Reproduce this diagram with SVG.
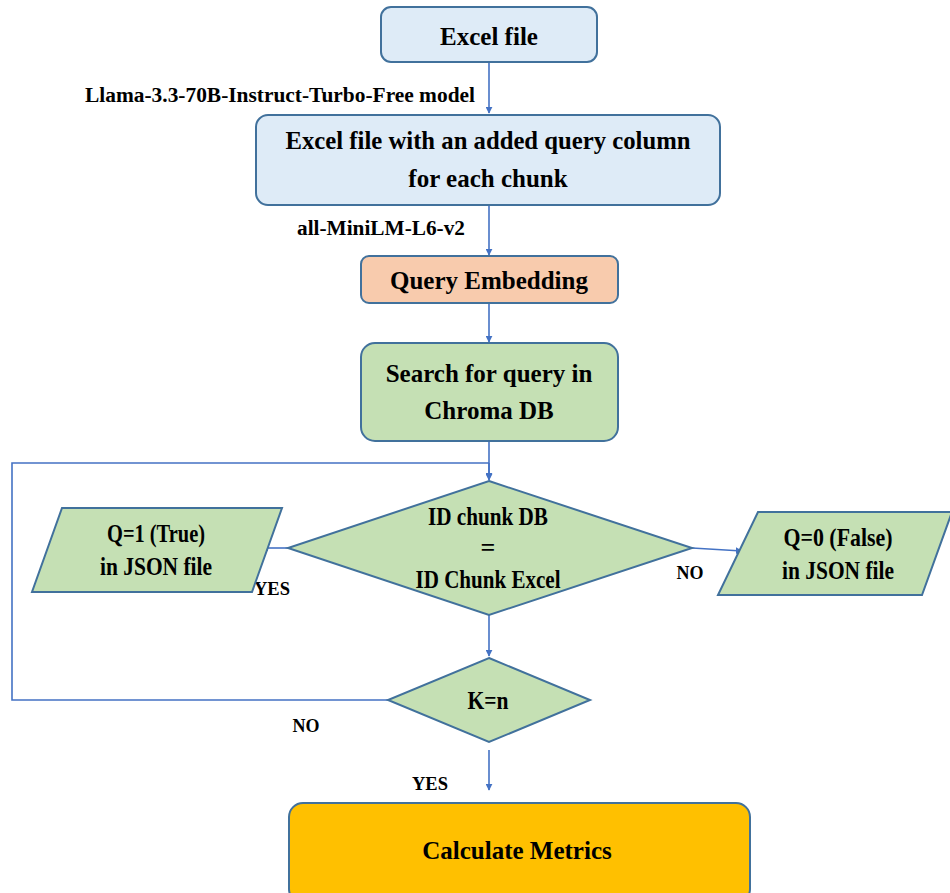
<svg xmlns="http://www.w3.org/2000/svg" width="950" height="893" viewBox="0 0 950 893">
<defs>
<marker id="ah" viewBox="0 0 10 10" refX="9" refY="5" markerWidth="7" markerHeight="7" orient="auto" markerUnits="userSpaceOnUse">
<path d="M0,0 L10,5 L0,10 z" fill="#4472c4"/>
</marker>
<style>
.t{font-family:"Liberation Serif","Times New Roman",serif;font-weight:bold;fill:#000;text-anchor:middle;dominant-baseline:central}
.lb{font-size:20px}
.sl{font-size:19px}
.nt{font-size:25px}
.dt{font-size:26px}
.blue{fill:#deebf7;stroke:#41719c;stroke-width:2}
.green{fill:#c5e0b4;stroke:#41719c;stroke-width:2}
.peach{fill:#f8cbad;stroke:#41719c;stroke-width:2}
.gold{fill:#ffc000;stroke:#41719c;stroke-width:2}
.c{fill:none;stroke:#4472c4;stroke-width:1.6}
</style>
</defs>
<rect width="950" height="893" fill="#fff"/>
<g id="connectors">
<line class="c" x1="489" y1="62" x2="489" y2="113" marker-end="url(#ah)"/>
<line class="c" x1="489" y1="205" x2="489" y2="255" marker-end="url(#ah)"/>
<line class="c" x1="489" y1="303" x2="489" y2="342" marker-end="url(#ah)"/>
<line class="c" x1="489" y1="441" x2="489" y2="480" marker-end="url(#ah)"/>
<polyline class="c" points="388,700 12,700 12,463 489,463" />
<line class="c" x1="489" y1="463" x2="489" y2="479" marker-end="url(#ah)"/>
<line class="c" x1="288" y1="548" x2="262" y2="548" marker-end="url(#ah)"/>
<line class="c" x1="692" y1="548" x2="742" y2="551" marker-end="url(#ah)"/>
<line class="c" x1="489" y1="615" x2="489" y2="656" marker-end="url(#ah)"/>
<line class="c" x1="489" y1="750" x2="489" y2="790" marker-end="url(#ah)"/>
</g>
<g id="lbl-llama"><text class="t lb" x="280" y="95" textLength="390" lengthAdjust="spacingAndGlyphs">Llama-3.3-70B-Instruct-Turbo-Free model</text></g>
<g id="lbl-minilm"><text class="t lb" x="381" y="228" textLength="168" lengthAdjust="spacingAndGlyphs">all-MiniLM-L6-v2</text></g>
<g id="lbl-yes1"><text class="t sl" x="272" y="588" textLength="36" lengthAdjust="spacingAndGlyphs">YES</text></g>
<g id="lbl-no1"><text class="t sl" x="690" y="572" textLength="27" lengthAdjust="spacingAndGlyphs">NO</text></g>
<g id="lbl-no2"><text class="t sl" x="306" y="725" textLength="27" lengthAdjust="spacingAndGlyphs">NO</text></g>
<g id="lbl-yes2"><text class="t sl" x="430" y="783" textLength="36" lengthAdjust="spacingAndGlyphs">YES</text></g>
<g id="excel">
<rect class="blue" x="381" y="7" width="216" height="55" rx="10"/>
<text class="t nt" x="489" y="36">Excel file</text>
</g>
<g id="excel-query">
<rect class="blue" x="256" y="115" width="464" height="90" rx="12"/>
<text class="t nt" x="488" y="140" textLength="405" lengthAdjust="spacingAndGlyphs">Excel file with an added query column</text>
<text class="t nt" x="488" y="178">for each chunk</text>
</g>
<g id="query-embedding">
<rect class="peach" x="361" y="256" width="257" height="47" rx="8"/>
<text class="t nt" x="489" y="280">Query Embedding</text>
</g>
<g id="search">
<rect class="green" x="361" y="343" width="257" height="98" rx="14"/>
<text class="t nt" x="489" y="373">Search for query in</text>
<text class="t nt" x="489" y="410">Chroma DB</text>
</g>
<g id="decision-id">
<polygon class="green" points="489,481 692,548 489,615 288,548"/>
<text class="t dt" x="488" y="516" textLength="120" lengthAdjust="spacingAndGlyphs">ID chunk DB</text>
<text class="t dt" x="488" y="547">=</text>
<text class="t dt" x="488" y="579" textLength="145" lengthAdjust="spacingAndGlyphs">ID Chunk Excel</text>
</g>
<g id="true-json">
<polygon class="green" points="62,508 282,508 252,592 32,592"/>
<text class="t dt" x="156" y="533" textLength="98" lengthAdjust="spacingAndGlyphs">Q=1 (True)</text>
<text class="t dt" x="156" y="566" textLength="112" lengthAdjust="spacingAndGlyphs">in JSON file</text>
</g>
<g id="false-json">
<polygon class="green" points="758,512 952,512 922,595 718,595"/>
<text class="t dt" x="838" y="537" textLength="109" lengthAdjust="spacingAndGlyphs">Q=0 (False)</text>
<text class="t dt" x="838" y="570" textLength="112" lengthAdjust="spacingAndGlyphs">in JSON file</text>
</g>
<g id="decision-k">
<polygon class="green" points="489,658 590,700 489,742 388,700"/>
<text class="t dt" x="488" y="700" textLength="41" lengthAdjust="spacingAndGlyphs">K=n</text>
</g>
<g id="metrics">
<rect class="gold" x="289" y="803" width="461" height="100" rx="14"/>
<text class="t nt" x="517" y="850">Calculate Metrics</text>
</g>
</svg>
